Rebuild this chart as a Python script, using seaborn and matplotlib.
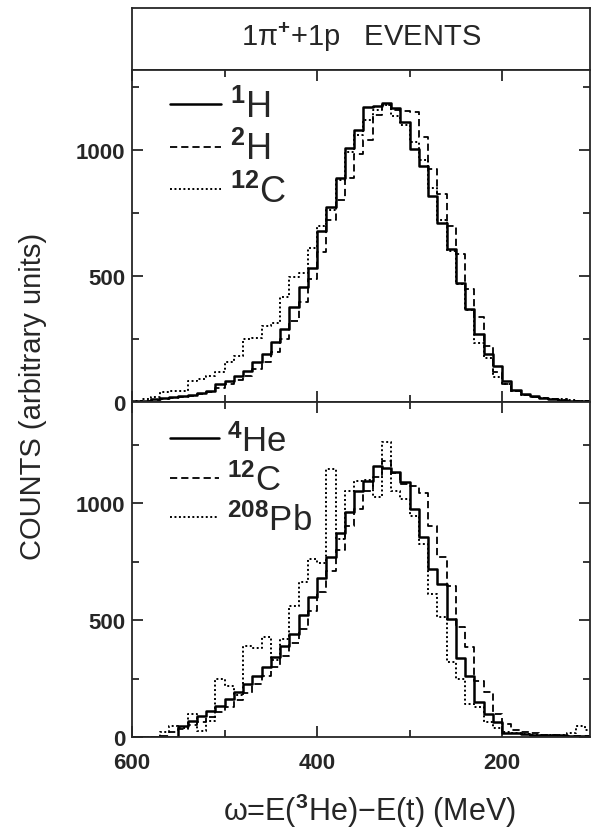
import numpy as np
import pandas as pd
import matplotlib
matplotlib.use("Agg")
import matplotlib.pyplot as plt
import seaborn as sns
from matplotlib.lines import Line2D
from matplotlib.ticker import MultipleLocator

# counts per 10 MeV bin, listed from omega=600 down to omega=110
omega = list(range(595, 100, -10))   # bin centres (MeV)
bin_edges = list(range(100, 610, 10))

# upper panel
h1 = [3, 6, 10, 14, 18, 22, 28, 36, 45, 70, 85, 104, 124, 157, 190, 237, 290, 378, 455, 531,
      680, 775, 889, 1007, 1077, 1172, 1176, 1187, 1166, 1110, 1004, 938, 819, 711, 605, 472, 369, 270, 190, 142,
      85, 49, 31, 22, 14, 10, 8, 6, 5, 4]
h2 = [2, 5, 8, 12, 15, 19, 24, 30, 38, 55, 70, 88, 105, 130, 160, 200, 250, 320, 396, 488,
      594, 720, 800, 887, 985, 1040, 1137, 1180, 1160, 1153, 1150, 1050, 925, 826, 700, 587, 449, 336, 224, 118,
      70, 42, 28, 20, 14, 10, 8, 6, 5, 4]
c12_top = [5, 12, 20, 40, 42, 45, 85, 90, 105, 118, 157, 182, 250, 255, 300, 315, 415, 495, 510, 610,
           700, 760, 880, 990, 1060, 1120, 1160, 1180, 1135, 1100, 1030, 960, 850, 720, 600, 470, 365, 235, 175, 100,
           70, 45, 28, 20, 15, 12, 10, 8, 6, 5]

# lower panel
he4 = [0, 0, 0, 0, 0, 48, 70, 91, 112, 134, 162, 191, 225, 262, 300, 340, 390, 440, 520, 600,
       680, 770, 872, 963, 1053, 1095, 1157, 1152, 1131, 1091, 974, 855, 718, 654, 504, 336, 259, 148, 98, 63,
       18, 15, 12, 10, 10, 8, 8, 6, 6, 5]
c12_bot = [0, 0, 0, 5, 20, 35, 50, 65, 85, 105, 130, 160, 190, 225, 260, 300, 345, 400, 460, 540,
           620, 710, 800, 900, 975, 1050, 1110, 1180, 1130, 1080, 1073, 1045, 903, 768, 646, 469, 384, 240, 191, 98,
           55, 30, 20, 15, 10, 8, 6, 5, 4, 3]
pb208 = [0, 0, 0, 20, 45, 40, 98, 25, 70, 248, 219, 180, 390, 380, 426, 330, 420, 561, 661, 760,
         745, 1145, 846, 1053, 1096, 1100, 1024, 1259, 1053, 1017, 946, 825, 611, 511, 319, 248, 141, 130, 66, 40,
         20, 15, 12, 10, 10, 8, 10, 15, 45, 30]

top_labels = [r'$^{\mathbf{1}}$H', r'$^{\mathbf{2}}$H', r'$^{\mathbf{12}}$C']
bot_labels = [r'$^{\mathbf{4}}$He', r'$^{\mathbf{12}}$C', r'$^{\mathbf{208}}$Pb']

sns.set_style("ticks")
plt.rcParams['font.family'] = ['Liberation Sans', 'DejaVu Sans']
plt.rcParams['mathtext.fontset'] = 'custom'
plt.rcParams['mathtext.rm'] = 'Liberation Sans'
plt.rcParams['mathtext.bf'] = 'Liberation Sans:bold'
plt.rcParams['mathtext.it'] = 'Liberation Sans:italic'

styles = [dict(ls='-', lw=1.8), dict(ls=(0, (4, 2.2)), lw=1.3), dict(ls=(0, (1, 1.3)), lw=1.4)]

fig = plt.figure(figsize=(5.91, 8.37), dpi=100)
ax_t = fig.add_axes([0.2234, 0.9152, 0.775, 0.0741])
ax1 = fig.add_axes([0.2234, 0.5185, 0.775, 0.3967])
ax2 = fig.add_axes([0.2234, 0.1183, 0.775, 0.4002])

ax_t.set_xticks([])
ax_t.set_yticks([])
for s in ax_t.spines.values():
    s.set_linewidth(1.3)
ax_t.text(0.5, 0.55, r'1π$^{\mathbf{+}}$+1p   EVENTS', ha='center', va='center', fontsize=21,
          transform=ax_t.transAxes)

for ax, series, labels, ymax, fs, ls, ytop in [(ax1, [h1, h2, c12_top], top_labels, 1317, 26, 0.17, 0.943),
                                               (ax2, [he4, c12_bot, pb208], bot_labels, 1432, 25, 0.14, 0.937)]:
    for vals, st in zip(series, styles):
        df = pd.DataFrame({'omega': omega, 'counts': vals})
        sns.histplot(data=df, x='omega', weights='counts', bins=bin_edges, element='step', fill=False,
                     color='black', linestyle=st['ls'], linewidth=st['lw'], ax=ax)
    ax.set_xlim(600, 105)
    ax.set_ylim(0, ymax)
    ax.set_xlabel('')
    ax.set_ylabel('')
    ax.xaxis.set_major_locator(MultipleLocator(200))
    ax.xaxis.set_minor_locator(MultipleLocator(100))
    ax.yaxis.set_major_locator(MultipleLocator(500))
    ax.yaxis.set_minor_locator(MultipleLocator(250))
    ax.tick_params(which='both', direction='in', top=True, right=True, width=1.3, labelsize=16, pad=5)
    ax.tick_params(which='major', length=8)
    ax.tick_params(which='minor', length=5)
    for s in ax.spines.values():
        s.set_linewidth(1.3)
    for lab in ax.get_xticklabels() + ax.get_yticklabels():
        lab.set_fontweight('bold')
    handles = [Line2D([], [], color='black', linestyle=st['ls'], linewidth=st['lw']) for st in styles]
    ax.legend(handles, labels, loc='upper left', bbox_to_anchor=(0.083, ytop), frameon=False,
              fontsize=fs, handlelength=1.4, handletextpad=0.25, labelspacing=ls,
              borderpad=0, borderaxespad=0)

ax1.tick_params(labelbottom=False)
ax2.tick_params(axis='x', pad=11)

fig.text(0.056, 0.526, 'COUNTS (arbitrary units)', rotation=90, ha='center', va='center', fontsize=21)
fig.text(0.626, 0.031, r'ω=E($^{\mathbf{3}}$He)−E(t) (MeV)', ha='center', va='center', fontsize=22)

fig.savefig("out.png", dpi=100)
